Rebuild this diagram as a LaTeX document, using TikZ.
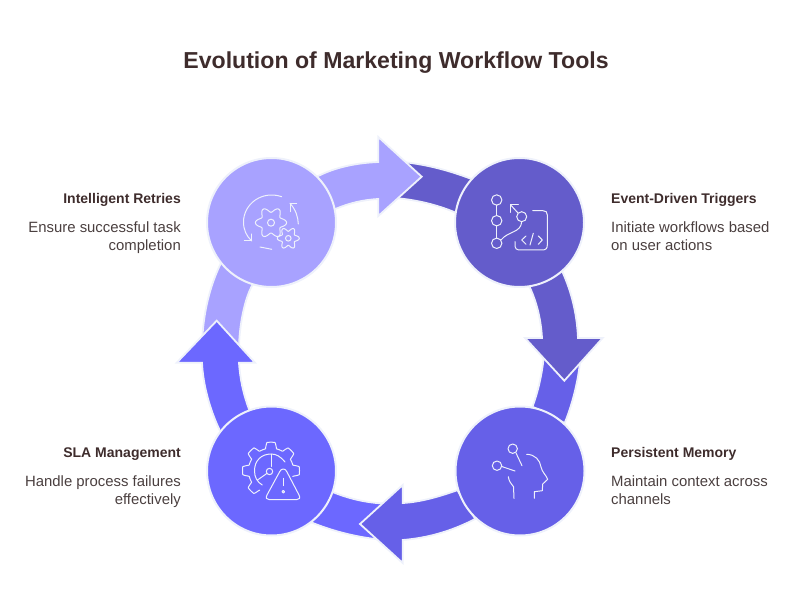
\documentclass[tikz,border=0pt]{standalone}
\usepackage{fontspec}
\setmainfont{Liberation Sans}
\usetikzlibrary{positioning, backgrounds}

\definecolor{lightband}{HTML}{A8A2FF}
\definecolor{darkband}{HTML}{645CCB}
\definecolor{midband}{HTML}{6660E8}
\definecolor{brightband}{HTML}{6C68FF}
\definecolor{rimcol}{HTML}{EEF1FB}
\definecolor{inkcol}{HTML}{3E2C2C}
\definecolor{greycol}{HTML}{4A3F3F}

% gear outline as a closed curve
\newcommand{\gearicon}[5]{
   \draw[iconline] plot[domain=0:360, samples=97, smooth]
      ({#1+(#3+#4*cos(#5*\x))*cos(\x)}, {#2+(#3+#4*cos(#5*\x))*sin(\x)}) -- cycle;
}

\begin{document}
\begin{tikzpicture}[
      x=1pt,
      y=-1pt,
      stepcircle/.style={
         draw=rimcol,
         line width=2pt,
         shape=circle,
         minimum size=129pt,
         inner sep=0pt
      },
      band/.style={draw=rimcol, line width=1.8pt, line join=miter},
      iconline/.style={draw=rimcol, line width=1pt, line cap=round, line join=round},
      headright/.style={anchor=west, inner sep=0pt, text=inkcol, font=\fontsize{14}{17}\selectfont\bfseries},
      headleft/.style={headright, anchor=east},
      textright/.style={inner sep=0pt, text=greycol, align=left, font=\fontsize{14.9}{17.5}\selectfont},
      textleft/.style={textright, align=right}
   ]
   \useasboundingbox (0,0) rectangle (800,612);

   \node (title) [inner sep=0pt, text=inkcol, font=\fontsize{23.1}{28}\selectfont\bfseries] at (396,63)
      {Evolution of Marketing Workflow Tools};

   % the four steps
   \node (retries)  [stepcircle, fill=lightband]  at (271.5,222.5) {};
   \node (triggers) [stepcircle, fill=darkband]   at (519.5,222.5) {};
   \node (memory)   [stepcircle, fill=midband]    at (520,471) {};
   \node (sla)      [stepcircle, fill=brightband] at (271.5,471) {};

   % arrow tips
   \coordinate (tiptop)    at (421.7,176.7);
   \coordinate (tipright)  at (564.3,380.7);
   \coordinate (tipbottom) at (360,524);
   \coordinate (tipleft)   at (216.7,320.7);

   \begin{pgfonlayer}{background}
      % tail under the right head
      \draw[band, fill=midband] (545,345) .. controls (543,368) and (540,386) .. (memory.79)
         -- (memory.47) .. controls (573,403) and (581,372) .. (581,345) -- cycle;

      % top head to right head
      \draw[band, fill=darkband] (403,162) .. controls (430,165) and (450,171) .. (triggers.138)
         -- (triggers.-49) .. controls (572,293) and (577,315) .. (578,338)
         -- (602.7,338) -- (tipright) -- (525,338) -- (542,338)
         .. controls (541,320) and (537,303) .. (triggers.-81)
         -- (triggers.171) .. controls (437,205) and (418,200) .. (395,198) -- cycle;

      % left head to top head
      \draw[band, fill=lightband] (202,350) .. controls (202,320) and (208,290) .. (retries.219.5)
         -- (retries.45.6) .. controls (335,167.5) and (355,163) .. (378.3,162)
         -- (378.3,137) -- (tiptop) -- (378.3,216) -- (378.3,199)
         .. controls (362,200) and (350,203) .. (retries.12.7)
         -- (retries.253) .. controls (245,298) and (239,325) .. (239,350) -- cycle;

      % bottom head to left head
      \draw[band, fill=brightband] (385,503.5) .. controls (368,503) and (350,499) .. (sla.-19)
         -- (sla.110) .. controls (243,393) and (240,378) .. (239,362.7)
         -- (255,362.7) -- (tipleft) -- (176.7,362.7) -- (202,362.7)
         .. controls (203,385) and (210,410) .. (sla.142.5)
         -- (sla.-52) .. controls (335,532) and (360,538) .. (385,540) -- cycle;

      % memory to bottom head
      \draw[band, fill=midband] (memory.197) .. controls (438,497) and (420,502) .. (402.7,503)
         -- (402.7,485) -- (tipbottom) -- (402.7,563) -- (402.7,540)
         .. controls (428,538) and (452,531) .. (memory.227) -- cycle;
   \end{pgfonlayer}

   % retries icon
   \gearicon{271}{222.7}{13}{2.6}{6}
   \gearicon{288.3}{238.3}{9}{2}{6}
   \draw[iconline] (271,222.7) circle (3.5);
   \draw[iconline] (288.3,238.3) circle (2.8);
   \draw[iconline] (281.7,196.7) .. controls (262,190) and (243.5,204) .. (243.5,222)
      .. controls (243.5,230) and (246.5,236) .. (251.7,241);
   \draw[iconline] (251.7,234) -- (251.7,241) -- (244.3,241);
   \draw[iconline] (260,247) -- (271.7,249.3);
   \draw[iconline] (298.3,224) .. controls (298,217) and (296,210) .. (290,203.3);
   \draw[iconline] (290,211.7) -- (290,203.3) -- (296.7,203.3);

   % triggers icon
   \foreach \py in {200,220.7,243.3}
      \draw[iconline] (496.7,\py) circle (5.2);
   \draw[iconline] (496.7,205.2) -- (496.7,215.5);
   \draw[iconline] (496.7,225.9) -- (496.7,238.1);
   \draw[iconline] (521.7,216.7) circle (5);
   \draw[iconline] (518,213) -- (510.7,205);
   \draw[iconline] (518.3,205) -- (510.7,205) -- (510.7,212.3);
   \draw[iconline] (521.7,221.7) .. controls (521,233) and (508,231) .. (501,240);
   \draw[iconline] (532.7,210.7) -- (543,210.7) .. controls (546,210.7) and (547.3,212) .. (547.3,215)
      -- (547.3,245) .. controls (547.3,248.5) and (546,250) .. (542,250)
      -- (520,250) .. controls (516.5,250) and (515,248.5) .. (515,245) -- (515,241.7);
   \draw[iconline] (526,236) -- (521.7,240) -- (526,244.3);
   \draw[iconline] (533.3,233.3) -- (530,245);
   \draw[iconline] (538.3,236) -- (542.3,240) -- (538.3,244.3);

   % memory icon
   \draw[iconline] (512.7,448.7) circle (4.7);
   \draw[iconline] (516,453) -- (522,465.7);
   \draw[iconline] (497,465.7) circle (4.7);
   \draw[iconline] (501.7,466.5) -- (515,471);
   \draw[iconline] (526.7,454.3) .. controls (535,454.5) and (540,460) .. (541,467)
      .. controls (542,472) and (546,475) .. (547.7,479.3) -- (542.7,484)
      -- (542.3,490.7) -- (534.3,491.7) -- (534.3,498.3);
   \draw[iconline] (508.3,476.7) .. controls (509,481) and (511,484) .. (513.5,486.7) -- (514,498.3);

   % sla icon
   \draw[iconline] plot[domain=-15:240, samples=181, smooth]
      ({271+(25.5+3*min(1,max(-1,2.5*cos(8*\x))))*cos(\x)}, {470.7-(25.5+3*min(1,max(-1,2.5*cos(8*\x))))*sin(\x)});
   \draw[iconline] (285,462) .. controls (280,456) and (276,454) .. (271,454)
      .. controls (261,454) and (254.5,461) .. (254.5,470.7)
      .. controls (254.5,477) and (257,482) .. (262.3,485);
   \draw[iconline] (271,454) -- (271,466.5);
   \draw[iconline] (269.5,471.5) circle (3.2);
   \draw[iconline] (257.5,480) -- (266.8,473.5);
   \draw[iconline] (283.3,469) .. controls (285,469) and (286,470) .. (287,472)
      -- (299,495) .. controls (300.5,498) and (299.5,499.5) .. (297,499.5)
      -- (269,499.5) .. controls (266.5,499.5) and (265.5,498) .. (267,495)
      -- (279.5,472) .. controls (280.5,470) and (281.5,469) .. (283.3,469) -- cycle;
   \draw[iconline] (283.3,478.3) -- (283.3,485.7);
   \draw[iconline] (283.3,491.7) circle (1.3);

   % labels
   \node (retrieshead) [headleft] at (181,200) {Intelligent Retries};
   \node (retriestext) [textleft, below=15pt of retrieshead.south east, anchor=north east]
      {Ensure successful task\\completion};

   \node (triggershead) [headright] at (611,200) {Event-Driven Triggers};
   \node (triggerstext) [textright, below=15pt of triggershead.south west, anchor=north west]
      {Initiate workflows based\\on user actions};

   \node (memoryhead) [headright] at (611,454) {Persistent Memory};
   \node (memorytext) [textright, below=15pt of memoryhead.south west, anchor=north west]
      {Maintain context across\\channels};

   \node (slahead) [headleft] at (181,454) {SLA Management};
   \node (slatext) [textleft, below=15pt of slahead.south east, anchor=north east]
      {Handle process failures\\effectively};
\end{tikzpicture}
\end{document}
